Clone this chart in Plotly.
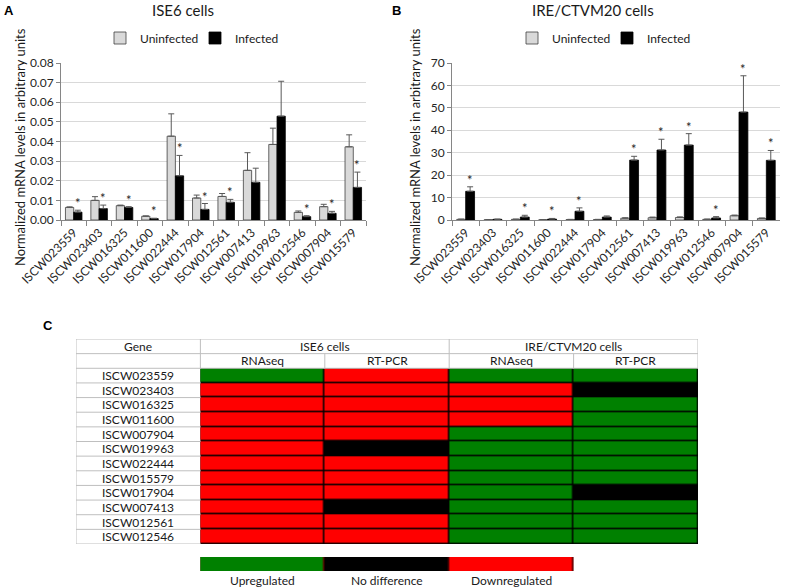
import plotly.graph_objects as go

# bar chart genes (panels A and B)
bar_genes = ["ISCW023559", "ISCW023403", "ISCW016325", "ISCW011600", "ISCW022444", "ISCW017904",
             "ISCW012561", "ISCW007413", "ISCW019963", "ISCW012546", "ISCW007904", "ISCW015579"]

# A: ISE6 cells
ise6_uninf = [0.0064, 0.0100, 0.0073, 0.0019, 0.0427, 0.0112, 0.0120, 0.0253, 0.0385, 0.0039, 0.0068, 0.0373]
ise6_uninf_err = [0.0003, 0.0019, 0.0003, 0.0002, 0.0114, 0.0015, 0.0015, 0.0090, 0.0083, 0.0007, 0.0012, 0.0061]
ise6_inf = [0.0040, 0.0058, 0.0064, 0.0007, 0.0225, 0.0054, 0.0090, 0.0192, 0.0529, 0.0017, 0.0034, 0.0166]
ise6_inf_err = [0.0010, 0.0018, 0.0004, 0.0002, 0.0104, 0.0030, 0.0015, 0.0072, 0.0178, 0.0005, 0.0010, 0.0078]
ise6_sig = [1, 1, 1, 1, 1, 1, 1, 0, 0, 1, 1, 1]

# B: IRE/CTVM20 cells
ire_uninf = [0.3, 0.1, 0.3, 0.1, 0.2, 0.2, 0.8, 1.0, 1.1, 0.3, 1.9, 0.7]
ire_uninf_err = [0.1, 0.05, 0.1, 0.05, 0.1, 0.1, 0.2, 0.3, 0.3, 0.1, 0.3, 0.2]
ire_inf = [12.8, 0.3, 1.3, 0.4, 3.9, 1.3, 26.7, 31.2, 33.4, 0.9, 48.1, 26.6]
ire_inf_err = [2.0, 0.1, 0.8, 0.3, 1.5, 0.5, 1.7, 4.8, 5.1, 0.6, 16.2, 4.4]
ire_sig = [1, 0, 1, 1, 1, 0, 1, 1, 1, 1, 1, 1]

# C: table, 0 = upregulated, 1 = no difference, 2 = downregulated
table_genes = ["ISCW023559", "ISCW023403", "ISCW016325", "ISCW011600", "ISCW007904", "ISCW019963",
               "ISCW022444", "ISCW015579", "ISCW017904", "ISCW007413", "ISCW012561", "ISCW012546"]
ise6_rnaseq = [0, 2, 2, 2, 2, 2, 2, 2, 2, 2, 2, 2]
ise6_rtpcr = [2, 2, 2, 2, 2, 1, 2, 2, 2, 1, 2, 2]
ire_rnaseq = [0, 2, 2, 2, 0, 0, 0, 0, 0, 0, 0, 0]
ire_rtpcr = [0, 1, 0, 0, 0, 0, 0, 0, 1, 0, 0, 0]
cell_groups = ["ISE6 cells", "IRE/CTVM20 cells"]
methods = ["RNAseq", "RT-PCR", "RNAseq", "RT-PCR"]
key_labels = ["Upregulated", "No difference", "Downregulated"]

W, H = 787, 588
FONT = "Lato"
GREEN, BLACK, RED = "#008000", "#000000", "#ff0000"
LIGHT = "#d9d9d9"
BARGAP = 0.35


def px_x(p):
    return p / W


def px_y(p):
    return 1 - p / H


fig = go.Figure()


def add_bars(xa, ya, uninf, uerr, inf, ierr, leg):
    fig.add_trace(go.Bar(x=bar_genes, y=uninf, name="Uninfected", xaxis=xa, yaxis=ya,
                         marker=dict(color=LIGHT, line=dict(color="#404040", width=0.8)),
                         error_y=dict(type="data", array=uerr, symmetric=False, arrayminus=[0] * len(uerr),
                                      color="#595959", thickness=1, width=3),
                         legend=leg))
    fig.add_trace(go.Bar(x=bar_genes, y=inf, name="Infected", xaxis=xa, yaxis=ya,
                         marker=dict(color=BLACK, line=dict(color=BLACK, width=0.8)),
                         error_y=dict(type="data", array=ierr, symmetric=False, arrayminus=[0] * len(ierr),
                                      color="#595959", thickness=1, width=3),
                         legend=leg))


add_bars("x", "y", ise6_uninf, ise6_uninf_err, ise6_inf, ise6_inf_err, "legend")
add_bars("x2", "y2", ire_uninf, ire_uninf_err, ire_inf, ire_inf_err, "legend2")

annotations = []


def add_stars(xref, yref, inf, ierr, sig, group_px):
    shift = group_px * (1 - BARGAP) / 4
    for g, v, e, s in zip(bar_genes, inf, ierr, sig):
        if s:
            annotations.append(dict(x=g, y=v + e, xref=xref, yref=yref, text="*", showarrow=False,
                                    xshift=shift, yanchor="bottom", yshift=-3,
                                    font=dict(family=FONT, size=13, color="#262626")))


A_L, A_R, B_L, B_R, TOP, BOT = 61, 366, 452, 780, 63, 220
add_stars("x", "y", ise6_inf, ise6_inf_err, ise6_sig, (A_R - A_L) / 12)
add_stars("x2", "y2", ire_inf, ire_inf_err, ire_sig, (B_R - B_L) / 12)

# table heatmap
rows = list(zip(ise6_rnaseq, ise6_rtpcr, ire_rnaseq, ire_rtpcr))
cs = [[0, GREEN], [0.5, BLACK], [1, RED]]
fig.add_trace(go.Heatmap(z=[list(r) for r in rows], x=[1, 2, 3, 4], y=list(range(2, 2 + len(table_genes))),
                         xaxis="x3", yaxis="y3", colorscale=cs, zmin=0, zmax=2, showscale=False,
                         xgap=1.5, ygap=1.5, hoverinfo="skip"))
# key bar
fig.add_trace(go.Heatmap(z=[[0, 1, 2]], x=[1, 2, 3], y=[0], xaxis="x3", yaxis="y4", colorscale=cs,
                         zmin=0, zmax=2, showscale=False, xgap=1.5, hoverinfo="skip"))

TBL_T, TBL_B = 339, 544
n_rows = len(table_genes) + 2
shapes = [dict(type="rect", xref="x3", yref="y3", x0=0.5, x1=4.5, y0=1.5, y1=n_rows - 0.5,
               fillcolor=BLACK, line=dict(width=0), layer="below"),
          dict(type="rect", xref="x3", yref="y4", x0=0.5, x1=3.5, y0=-0.5, y1=0.5,
               fillcolor="#5a0000", line=dict(width=0), layer="below")]
GRID = "#bfbfbf"


def seg(x0, x1, y0, y1):
    shapes.append(dict(type="line", xref="x3", yref="y3", x0=x0, x1=x1, y0=y0, y1=y1,
                       line=dict(color=GRID, width=1)))


for yy in [-0.5, 0.5, 1.5]:
    seg(-0.5, 4.5, yy, yy)
for i in range(len(table_genes)):
    seg(-0.5, 0.5, 2.5 + i, 2.5 + i)
seg(-0.5, -0.5, -0.5, n_rows - 0.5)
for xx in [0.5, 2.5, 4.5]:
    seg(xx, xx, -0.5, 1.5)
for xx in [1.5, 3.5]:
    seg(xx, xx, 0.5, 1.5)

tfont = dict(family=FONT, size=12, color="#1a1a1a")
mid = dict(showarrow=False, xanchor="center", yanchor="middle")
annotations.append(dict(x=0, y=0, xref="x3", yref="y3", text="Gene", font=tfont, **mid))
for k, grp in enumerate(cell_groups):
    annotations.append(dict(x=1.5 + 2 * k, y=0, xref="x3", yref="y3", text=grp, font=tfont, **mid))
for k, m in enumerate(methods):
    annotations.append(dict(x=1 + k, y=1, xref="x3", yref="y3", text=m, font=tfont, **mid))
for i, g in enumerate(table_genes):
    annotations.append(dict(x=0, y=2 + i, xref="x3", yref="y3", text=g, font=tfont, **mid))
for k, lab in enumerate(key_labels):
    annotations.append(dict(x=1 + k, y=px_y(580), xref="x3", yref="paper", text=lab, font=tfont, **mid))

# titles, panel letters, axis titles
for txt, xp in [("ISE6 cells", 183), ("IRE/CTVM20 cells", 593)]:
    annotations.append(dict(x=px_x(xp), y=px_y(10), xref="paper", yref="paper", text=txt,
                            font=dict(family=FONT, size=15, color="#1a1a1a"), **mid))
for txt, xp, yp in [("A", 9, 10), ("B", 396, 10), ("C", 48, 326)]:
    annotations.append(dict(x=px_x(xp), y=px_y(yp), xref="paper", yref="paper", text="<b>%s</b>" % txt,
                            font=dict(family="Liberation Sans", size=13, color="black"), **mid))
for xp in [20, 415]:
    annotations.append(dict(x=px_x(xp), y=px_y(147), xref="paper", yref="paper",
                            text="Normalized mRNA levels in arbitrary units", textangle=-90,
                            font=dict(family=FONT, size=13, color="#1a1a1a"), **mid))

tick_font = dict(family=FONT, size=12, color="#262626")
xcommon = dict(type="category", showline=True, linecolor="#868686", ticks="outside", tickson="boundaries",
               ticklen=5, tickcolor="#868686", tickangle=-45, tickfont=tick_font, showgrid=False)
ycommon = dict(showline=True, linecolor="#868686", ticks="outside", ticklen=4, tickcolor="#868686",
               gridcolor="#d9d9d9", zeroline=False, tickfont=tick_font)
leg_common = dict(orientation="h", xanchor="left", yanchor="middle", entrywidth=50,
                  font=dict(family=FONT, size=12, color="#1a1a1a"), bgcolor="rgba(0,0,0,0)")

fig.update_layout(
    width=W, height=H, margin=dict(l=0, r=0, t=0, b=0, autoexpand=False),
    paper_bgcolor="white", plot_bgcolor="white",
    barmode="group", bargap=BARGAP, bargroupgap=0,
    xaxis=dict(domain=[px_x(A_L), px_x(A_R)], anchor="y", **xcommon),
    yaxis=dict(domain=[px_y(BOT), px_y(TOP)], anchor="x", range=[0, 0.08], dtick=0.01, tickformat=".2f",
               **ycommon),
    xaxis2=dict(domain=[px_x(B_L), px_x(B_R)], anchor="y2", **xcommon),
    yaxis2=dict(domain=[px_y(BOT), px_y(TOP)], anchor="x2", range=[0, 70], dtick=10, **ycommon),
    xaxis3=dict(domain=[px_x(76), px_x(698)], anchor="y3", range=[-0.5, 4.5], visible=False),
    yaxis3=dict(domain=[px_y(TBL_B), px_y(TBL_T)], anchor="x3", range=[n_rows - 0.5, -0.5], visible=False),
    yaxis4=dict(domain=[px_y(571), px_y(557)], anchor="x3", range=[-0.5, 0.5], visible=False),
    legend=dict(x=px_x(100), y=px_y(38), **leg_common),
    legend2=dict(x=px_x(512), y=px_y(38), **leg_common),
    annotations=annotations, shapes=shapes,
)

fig.write_html("out.html", config={"displayModeBar": False},
               post_script="document.body.style.margin='0';")
